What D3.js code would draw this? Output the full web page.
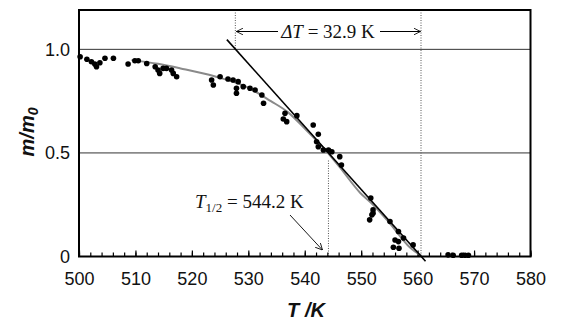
<!DOCTYPE html>
<html>
<head>
<meta charset="utf-8">
<script src="https://cdn.jsdelivr.net/npm/d3@7"></script>
<style>
  body { margin: 0; background: #fff; }
  svg { display: block; }
</style>
</head>
<body>
<div id="chart"></div>
<script>
// measured points (temperature in K, relative mass m/m0)
const tempK = [500.2, 501.4, 502.2, 502.8, 503.1, 503.7, 504.6, 506.1, 508.7, 509.9,
  510.5, 512.0, 513.5, 514.0, 514.3, 514.9, 515.5, 516.4, 516.7, 517.3,
  523.5, 523.8, 525.0, 526.4, 527.3, 528.2, 527.9, 527.9, 529.1, 530.3,
  531.2, 532.4, 532.7, 536.2, 536.5, 536.8, 538.6, 541.5, 542.4, 542.1,
  542.4, 543.3, 544.2, 544.8, 546.2, 546.5, 551.7, 552.1, 551.9, 551.5,
  552.1, 555.1, 556.6, 557.5, 556.0, 556.6, 555.7, 556.7, 559.2, 565.4,
  566.3, 567.8, 568.4, 569.0];
const massRatio = [0.964, 0.952, 0.940, 0.929, 0.916, 0.935, 0.957, 0.957, 0.929, 0.945,
  0.945, 0.932, 0.916, 0.900, 0.884, 0.908, 0.908, 0.900, 0.884, 0.868,
  0.852, 0.828, 0.868, 0.857, 0.852, 0.844, 0.812, 0.788, 0.820, 0.812,
  0.804, 0.780, 0.740, 0.664, 0.691, 0.651, 0.680, 0.635, 0.590, 0.554,
  0.530, 0.514, 0.514, 0.506, 0.482, 0.442, 0.282, 0.225, 0.201, 0.177,
  0.209, 0.169, 0.121, 0.089, 0.080, 0.072, 0.045, 0.040, 0.056, 0.008,
  0.006, 0.006, 0.006, 0.006];

// fitted curve (grey)
const fitT = [509.3, 514, 518, 524, 530, 534, 537, 540, 544.2, 546.2, 549.8, 552.1, 555, 558.6, 560.6];
const fitM = [0.948, 0.930, 0.908, 0.870, 0.815, 0.750, 0.697, 0.618, 0.497, 0.431, 0.308, 0.250, 0.163, 0.045, 0.005];

const tHalf = 544.2;
const deltaT = 32.9;

const xMajor = [500, 510, 520, 530, 540, 550, 560, 570, 580];
const xMinor = d3.range(500, 581, 2);
const yLabels = [0, 0.5, 1.0];
const yGrid = [0.5, 1.0];

const W = 561, H = 321;
const svg = d3.select("#chart").append("svg").attr("width", W).attr("height", H);

const x = d3.scaleLinear().domain([500, 580]).range([79, 530.5]);
const y = d3.scaleLinear().domain([0, 1.19]).range([256.5, 10]);

const sans = "Liberation Sans, Arial, sans-serif";
const serif = "Liberation Serif, Times New Roman, serif";

// gridlines
svg.append("g")
  .selectAll("line")
  .data(yGrid)
  .join("line")
  .attr("x1", x(500)).attr("x2", x(580))
  .attr("y1", d => y(d)).attr("y2", d => y(d))
  .attr("stroke", "#333").attr("stroke-width", 1);

// x axis ticks (inward)
const minorAxis = svg.append("g")
  .attr("transform", `translate(0,${y(0)})`)
  .call(d3.axisBottom(x).tickValues(xMinor).tickSize(-4).tickFormat(""));
minorAxis.select(".domain").remove();
minorAxis.selectAll("line").attr("stroke", "#000").attr("stroke-width", 1.2);

const majorAxis = svg.append("g")
  .attr("transform", `translate(0,${y(0)})`)
  .call(d3.axisBottom(x).tickValues(xMajor).tickSize(-6).tickFormat(d3.format("d")));
majorAxis.select(".domain").remove();
majorAxis.selectAll("line").attr("stroke", "#000").attr("stroke-width", 1.2);
majorAxis.selectAll("text")
  .attr("font-family", sans).attr("font-size", 18).attr("fill", "#111")
  .attr("dy", "0.35em").attr("y", 22);

// y labels
const yAxis = svg.append("g")
  .attr("transform", `translate(${x(500)},0)`)
  .call(d3.axisLeft(y).tickValues(yLabels).tickSize(0).tickPadding(9)
    .tickFormat(d => d === 0 ? "0" : d3.format(".1f")(d)));
yAxis.select(".domain").remove();
yAxis.selectAll("text")
  .attr("font-family", sans).attr("font-size", 18).attr("fill", "#111");

// dotted reference lines
const tStart = tHalf - deltaT / 2 - 0.05;
const tEnd = tHalf + deltaT / 2 - 0.05;
const dotted = [
  { t: tStart, m0: 1.0, m1: 1.19, b: 0 },
  { t: tEnd, m0: 0, m1: 1.19, b: 0 },
  { t: tHalf, m0: 0.5, m1: 0, b: 7 }
];
svg.append("g")
  .selectAll("line")
  .data(dotted)
  .join("line")
  .attr("x1", d => x(d.t)).attr("x2", d => x(d.t))
  .attr("y1", d => y(d.m1)).attr("y2", d => y(d.m0) + d.b)
  .attr("stroke", "#555").attr("stroke-width", 1)
  .attr("stroke-dasharray", "1,1.5");

// grey fitted curve
const fitData = fitT.map((t, i) => [t, fitM[i]]);
svg.append("path")
  .datum(fitData)
  .attr("fill", "none")
  .attr("stroke", "#8a8a8a")
  .attr("stroke-width", 2)
  .attr("d", d3.line().x(d => x(d[0])).y(d => y(d[1])).curve(d3.curveMonotoneX));

// tangent at T1/2
const slope = -1 / deltaT;
const tangent = t => 0.5 + slope * (t - tHalf);
const tanT = [526.2, 561.4];
svg.append("line")
  .attr("x1", x(tanT[0])).attr("y1", y(tangent(tanT[0])))
  .attr("x2", x(tanT[1])).attr("y2", y(tangent(tanT[1])))
  .attr("stroke", "#000").attr("stroke-width", 1.6);

// data points
svg.append("g")
  .selectAll("circle")
  .data(tempK.map((t, i) => [t, massRatio[i]]))
  .join("circle")
  .attr("cx", d => x(d[0]))
  .attr("cy", d => y(d[1]))
  .attr("r", 2.8)
  .attr("fill", "#000");

// frame
svg.append("rect")
  .attr("x", x(500)).attr("y", y(1.19))
  .attr("width", x(580) - x(500)).attr("height", y(0) - y(1.19))
  .attr("fill", "none").attr("stroke", "#000").attr("stroke-width", 2);

// arrow markers
const defs = svg.append("defs");
defs.append("marker")
  .attr("id", "arr")
  .attr("viewBox", "0 0 10 10")
  .attr("refX", 10).attr("refY", 5)
  .attr("markerWidth", 7).attr("markerHeight", 7)
  .attr("orient", "auto-start-reverse")
  .attr("markerUnits", "userSpaceOnUse")
  .append("path")
  .attr("d", "M0,0 L10,5 L0,10")
  .attr("fill", "none").attr("stroke", "#000").attr("stroke-width", 1.2);

// delta T annotation
const dtY = 31.5;
const dtText = svg.append("text")
  .attr("x", 328).attr("y", dtY)
  .attr("dy", "0.35em")
  .attr("text-anchor", "middle")
  .attr("font-family", serif).attr("font-size", 19).attr("fill", "#111");
dtText.append("tspan").attr("font-style", "italic").text("ΔT");
dtText.append("tspan").text(" = " + deltaT + " K");

svg.append("line")
  .attr("x1", 278).attr("y1", dtY).attr("x2", x(tStart) + 1).attr("y2", dtY)
  .attr("stroke", "#000").attr("stroke-width", 1)
  .attr("marker-end", "url(#arr)");
svg.append("line")
  .attr("x1", 380).attr("y1", dtY).attr("x2", x(tEnd) - 0.5).attr("y2", dtY)
  .attr("stroke", "#000").attr("stroke-width", 1)
  .attr("marker-end", "url(#arr)");

// T1/2 annotation
const thText = svg.append("text")
  .attr("x", 195).attr("y", 208)
  .attr("font-family", serif).attr("font-size", 19).attr("fill", "#111");
thText.append("tspan").attr("font-style", "italic").text("T");
thText.append("tspan").attr("font-size", 13).attr("dy", 4).text("1/2");
thText.append("tspan").attr("dy", -4).text(" = " + tHalf + " K");

svg.append("line")
  .attr("x1", 290).attr("y1", 215).attr("x2", x(tHalf) - 6).attr("y2", 250)
  .attr("stroke", "#000").attr("stroke-width", 0.9)
  .attr("marker-end", "url(#arr)");

// axis titles
svg.append("text")
  .attr("transform", "translate(27,132) rotate(-90)")
  .attr("text-anchor", "middle")
  .attr("dy", "0.35em")
  .attr("font-family", sans).attr("font-size", 20)
  .attr("font-weight", "bold").attr("font-style", "italic").attr("fill", "#111")
  .call(t => {
    t.append("tspan").text("m/m");
    t.append("tspan").attr("font-size", 14).attr("dy", 4).text("0");
  });

svg.append("text")
  .attr("x", 306).attr("y", 310)
  .attr("dy", "0.35em")
  .attr("text-anchor", "middle")
  .attr("font-family", sans).attr("font-size", 20)
  .attr("font-weight", "bold").attr("font-style", "italic").attr("fill", "#111")
  .text("T /K");
</script>
</body>
</html>
